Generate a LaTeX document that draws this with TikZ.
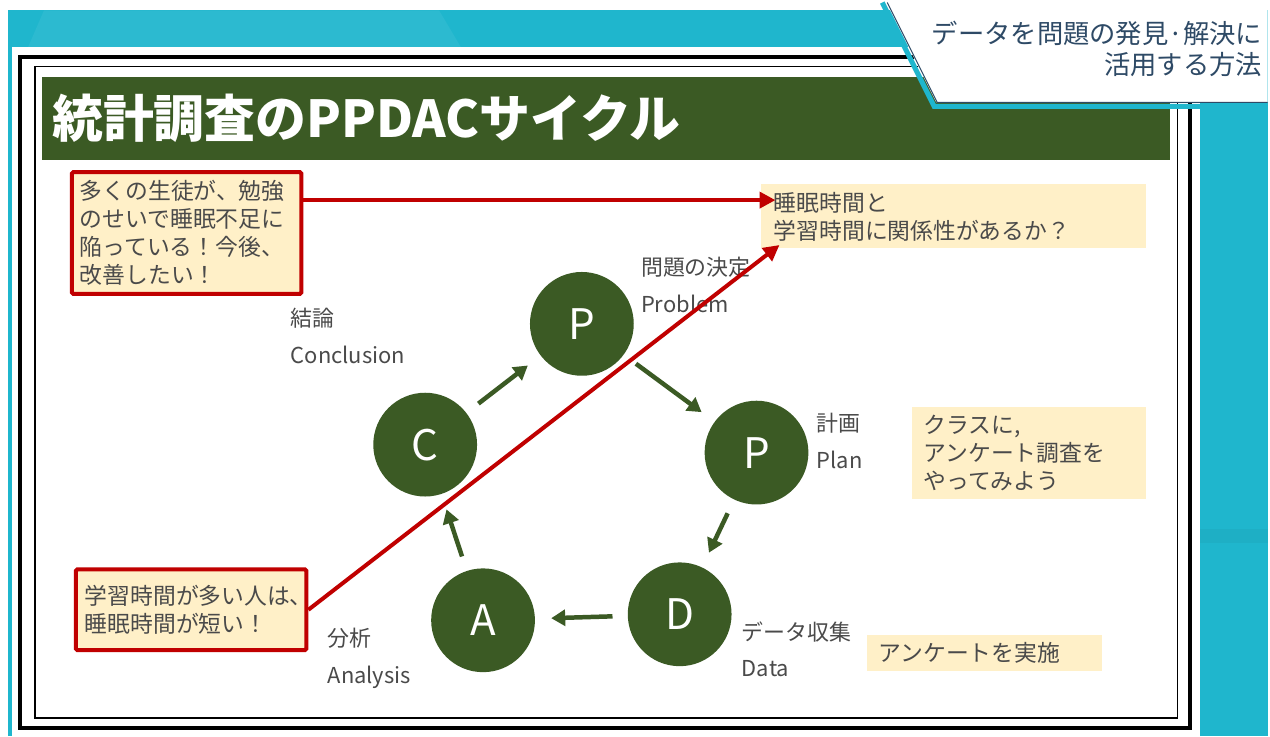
\documentclass[tikz,border=0pt]{standalone}
\usepackage{fontspec}
\setmainfont{Noto Sans CJK JP}
\usetikzlibrary{arrows.meta}

\definecolor{ppgreen}{HTML}{3B5A24}
\definecolor{ppred}{HTML}{C00000}
\definecolor{ppnote}{HTML}{FFF0C8}
\definecolor{ppcyan}{HTML}{1FB6CD}
\definecolor{pptext}{HTML}{4A4A4A}
\definecolor{pptab}{HTML}{2E4A66}

\begin{document}
\begin{tikzpicture}[x=0.02cm,y=-0.02cm,
    stage/.style={circle,fill=ppgreen,minimum size=2.08cm,inner sep=0pt,text=white,font=\fontsize{24}{24}\selectfont},
    cyc/.style={->,>={Triangle[length=2.8mm,width=3.2mm]},draw=ppgreen,line width=0.9mm,shorten <=3mm,shorten >=3.2mm},
    note/.style={fill=ppnote,anchor=north west,align=left,inner ysep=0pt,text=pptext,font=\fontsize{13}{16}\selectfont},
    redbox/.style={note,draw=ppred,line width=0.8mm,rounded corners=0.3mm},
    lbl/.style={anchor=west,align=left,inner sep=0pt,text=pptext,font=\fontsize{12.5}{21}\selectfont},
    redarr/.style={->,>={Triangle[length=3.2mm,width=3.2mm]},draw=ppred,line width=0.8mm}]
        % frame and title bar
        \fill[white] (0,0) rectangle (1270,735);
        \fill[ppcyan] (8,8) rectangle (1270,735);
        \fill[ppcyan!94!white] (28,45) -- (44,8) -- (440,8) -- (462,45) -- cycle;
        \fill[ppcyan!96!black] (1202,528) rectangle (1270,542);
        \fill[white] (12,45) rectangle (1202,735);
        \draw[line width=0.8mm] (20,55) rectangle (1192,727);
        \draw[line width=0.3mm] (35,64) rectangle (1180,717);
        \fill[ppgreen] (42,75) rectangle (1172,158);
        \node[anchor=west,inner sep=0pt,text=white,font=\bfseries\fontsize{29}{29}\selectfont] (title) at (52,116) {統計調査のPPDACサイクル};
        % tab at top right
        \fill[white] (888,0) -- (1270,0) -- (1270,100) -- (938,100) -- cycle;
        \draw[ppcyan,line width=1mm] (884,0) -- (936,104) -- (1270,104);
        \draw[pptab,line width=0.2mm] (889,0) -- (939,100) -- (1270,100);
        \node[anchor=north east,align=right,inner sep=0pt,text=pptab,font=\fontsize{15}{18}\selectfont] (tab) at (1265,18) {データを問題の発見·解決に\\活用する方法};

        % the cycle
        \node[stage] (prob) at (583,322) {P};
        \node[stage] (plan) at (758,451) {P};
        \node[stage] (data) at (681,613) {D};
        \node[stage] (anal) at (484,619) {A};
        \node[stage] (conc) at (426,443) {C};
        \draw[cyc] (conc) -- (prob);
        \draw[cyc] (prob) -- (plan);
        \draw[cyc] (plan) -- (data);
        \draw[cyc] (data) -- (anal);
        \draw[cyc] (anal) -- (conc);

        \node[lbl] (probl) at (642,283) {問題の決定\\Problem};
        \node[lbl] (planl) at (818,439) {計画\\Plan};
        \node[lbl] (datal) at (743,648) {データ収集\\Data};
        \node[lbl] (anall) at (328,657) {分析\\Analysis};
        \node[lbl] (concl) at (291,334) {結論\\Conclusion};

        % notes
        \node[note,inner xsep=2.6mm,text width=7.2cm,minimum height=1.28cm] (quest) at (762,182) {睡眠時間と\\学習時間に関係性があるか？};
        \node[note,inner xsep=2.4mm,text width=4.22cm,minimum height=1.84cm] (plnote) at (913,405) {クラスに,\\アンケート調査を\\やってみよう};
        \node[note,inner xsep=2.4mm,text width=4.24cm,minimum height=0.72cm] (dtnote) at (868,633) {アンケートを実施};
        \node[redbox,inner xsep=1.6mm,text width=4.28cm,minimum height=2.44cm] (obs) at (70,168) {多くの生徒が、勉強\\のせいで睡眠不足に\\陥っている！今後、\\改善したい！};
        \node[redbox,inner xsep=1.8mm,text width=4.26cm,minimum height=1.62cm] (res) at (74,566) {学習時間が多い人は、\\睡眠時間が短い！};

        \coordinate (qtip) at (777,198);
        \coordinate (qtip2) at (781,243);
        \draw[redarr] (obs.east |- qtip) -- (qtip);
        \draw[redarr] (res.east) -- (qtip2);
    \end{tikzpicture}
\end{document}
